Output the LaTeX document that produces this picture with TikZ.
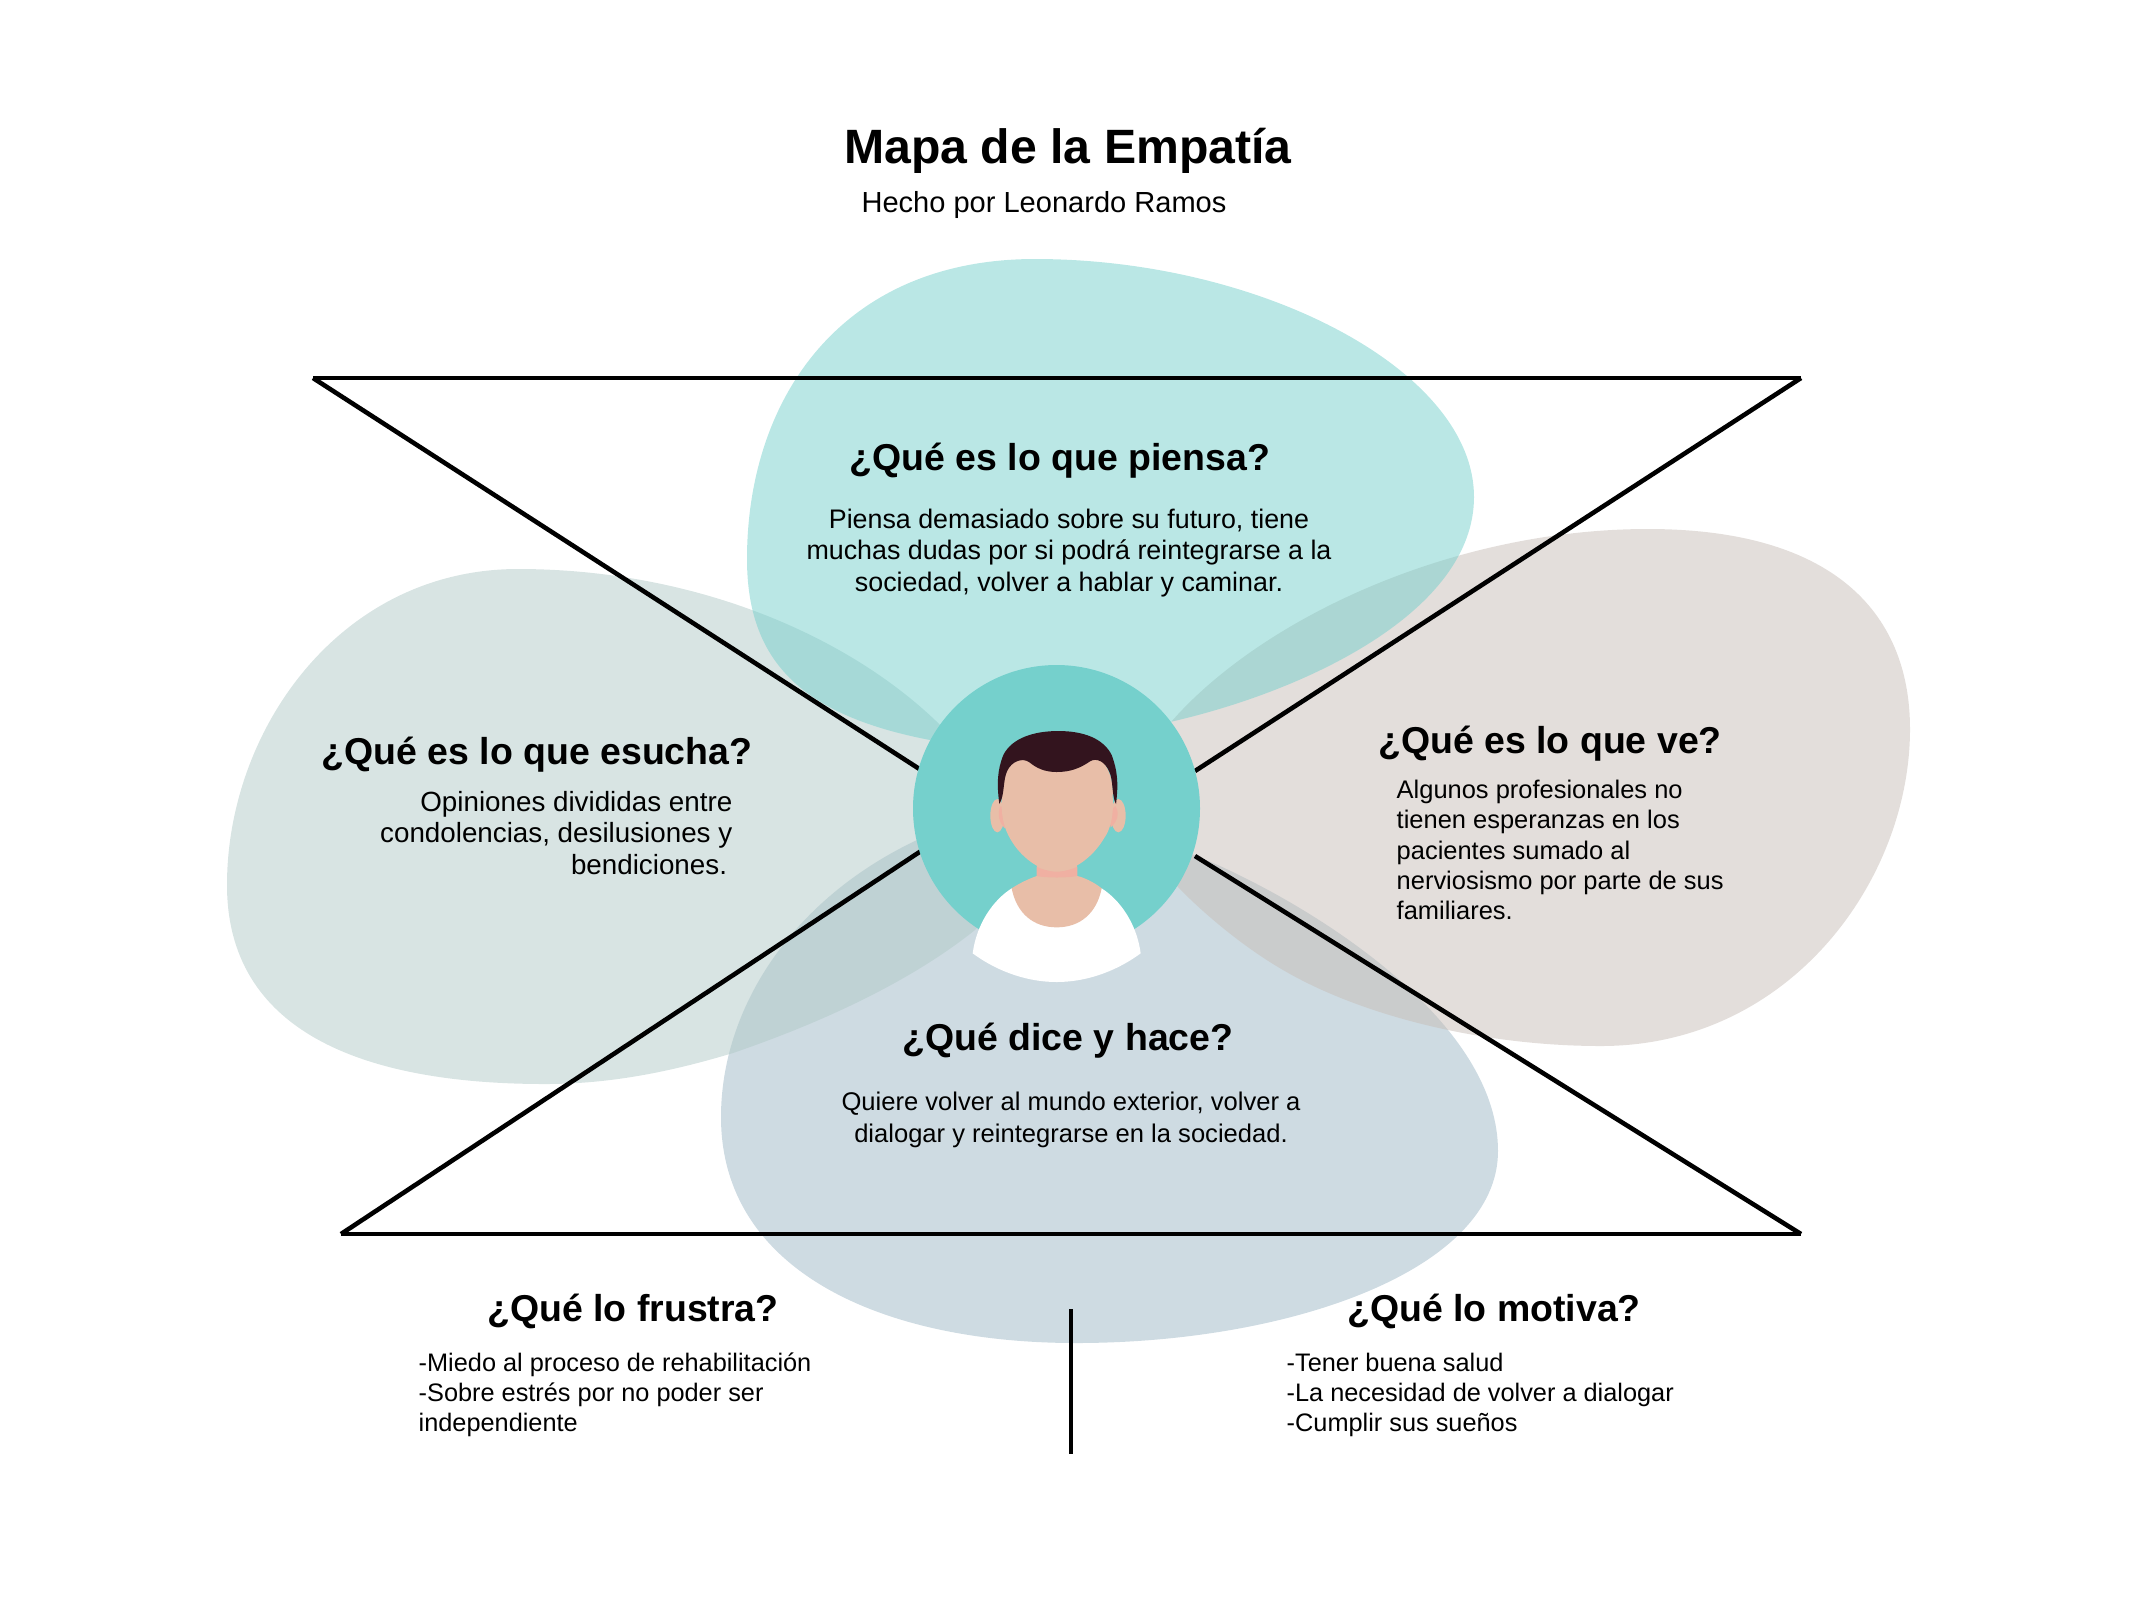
\documentclass[tikz,border=0pt]{standalone}
\usepackage{fontspec}
\setmainfont{Liberation Sans}
\usetikzlibrary{positioning}
\definecolor{tealc}{HTML}{75D0CC}
\definecolor{sagec}{HTML}{B1C9C7}
\definecolor{sandc}{HTML}{C7BDB7}
\definecolor{bluec}{HTML}{9DB7C5}
\definecolor{skinc}{HTML}{E8BEA8}
\definecolor{pinkc}{HTML}{F0B0A2}
\definecolor{hairc}{HTML}{33141E}

\begin{document}
\begin{tikzpicture}[x=0.01cm, y=-0.01cm,
blob/.style={opacity=0.5},
frame/.style={line width=1.3pt, black},
head/.style={font=\fontsize{10.65}{12}\selectfont\bfseries, inner sep=0pt},
body/.style={font=\fontsize{#1}{8.9}\selectfont, inner sep=0pt},
lista/.style={font=\fontsize{7.2}{8.6}\selectfont, inner sep=0pt, align=left}]
\useasboundingbox (0,0) rectangle (2136,1602);

% blobs
\fill[blob, fill=bluec] (721,1117) .. controls (721,1010) and (790,900) .. (917,840)
  .. controls (1000,800) and (1130,820) .. (1243,877) .. controls (1340,925) and (1498,1030) .. (1498,1151)
  .. controls (1498,1270) and (1290,1343) .. (1076,1343)
  .. controls (880,1343) and (721,1270) .. (721,1117) -- cycle;
\fill[blob, fill=sagec] (518,569) .. controls (700,569) and (860,640) .. (950,735)
  .. controls (1010,800) and (1020,880) .. (975,930) .. controls (900,990) and (800,1030) .. (733,1053)
  .. controls (670,1072) and (610,1084) .. (545,1084)
  .. controls (360,1084) and (227,1030) .. (227,885) .. controls (227,730) and (340,569) .. (518,569) -- cycle;
\fill[blob, fill=sandc] (1648,529) .. controls (1830,529) and (1910,610) .. (1910,729)
  .. controls (1910,880) and (1790,1046) .. (1601,1046) .. controls (1480,1046) and (1360,1015) .. (1283,970)
  .. controls (1240,945) and (1200,910) .. (1178,887)
  .. controls (1130,835) and (1120,780) .. (1171,722) .. controls (1260,620) and (1450,529) .. (1648,529) -- cycle;
\fill[blob, fill=tealc] (1035,259) .. controls (1260,259) and (1474,370) .. (1474,497)
  .. controls (1474,610) and (1310,690) .. (1170,722) .. controls (1100,745) and (1010,750) .. (930,740)
  .. controls (800,715) and (747,660) .. (747,559) .. controls (747,400) and (840,259) .. (1035,259) -- cycle;

% lines
\coordinate (tl) at (313,378);
\coordinate (tr) at (1801,378);
\coordinate (bl) at (341,1234);
\coordinate (br) at (1801,1234);
\coordinate (il) at (921,770);
\coordinate (ir) at (1195,771);
\coordinate (jl) at (921,851);
\coordinate (jr) at (1195,856);
\coordinate (v1) at (1071,1309);
\coordinate (v2) at (1071,1454);
\draw[frame] (il) -- (tl);
\draw[frame] (tl) -- (tr);
\draw[frame] (tr) -- (ir);
\draw[frame] (jl) -- (bl);
\draw[frame] (bl) -- (br);
\draw[frame] (br) -- (jr);
\draw[frame] (v1) -- (v2);

% person
\fill[tealc] (1056.5,808.5) circle (143.5);
\begin{scope}[shift={(880,640)}, scale=1/3]
\fill[white] (278,940) .. controls (290,850) and (340,780) .. (395,745) -- (665,745)
  .. controls (720,780) and (770,850) .. (782,940) .. controls (700,1000) and (610,1026) .. (530,1026)
  .. controls (450,1026) and (360,1000) .. (278,940) -- cycle;
\fill[skinc] (395,745) .. controls (430,722) and (460,712) .. (470,708) -- (592,708)
  .. controls (610,712) and (640,725) .. (665,745) .. controls (650,820) and (600,862) .. (530,862)
  .. controls (460,862) and (410,820) .. (395,745) -- cycle;
\fill[skinc] (470,660) rectangle (592,712);
\fill[pinkc] (470,680) .. controls (500,698) and (560,698) .. (592,680) -- (592,708)
  .. controls (560,714) and (500,714) .. (470,708) -- cycle;
\fill[skinc] (352,527) ellipse (21 and 50);
\fill[skinc] (715,527) ellipse (22 and 50);
\fill[pinkc] (362,498) .. controls (350,520) and (358,550) .. (376,566) -- (385,520) -- cycle;
\fill[pinkc] (706,498) .. controls (720,520) and (712,545) .. (692,562) -- (685,520) -- cycle;
\fill[skinc] (365,470) .. controls (362,530) and (375,570) .. (390,595) .. controls (420,650) and (480,695) .. (530,695)
  .. controls (580,695) and (640,650) .. (672,595) .. controls (690,570) and (702,530) .. (698,470)
  .. controls (705,380) and (640,300) .. (530,300) .. controls (420,300) and (360,380) .. (365,470) -- cycle;
\fill[hairc] (358,492) .. controls (350,430) and (352,390) .. (370,345) .. controls (395,295) and (460,273) .. (535,273)
  .. controls (610,273) and (670,295) .. (695,345) .. controls (712,390) and (716,430) .. (708,492)
  .. controls (695,470) and (700,420) .. (688,395) .. controls (675,365) and (650,352) .. (630,364)
  .. controls (600,385) and (570,396) .. (530,396) .. controls (495,396) and (470,385) .. (447,366)
  .. controls (425,352) and (395,365) .. (382,392) .. controls (368,420) and (375,465) .. (358,492) -- cycle;
\end{scope}

% title
\node[font=\fontsize{13.7}{17}\selectfont\bfseries, inner sep=0pt] (titulo) at (1068,151) {Mapa de la Empatía};
\node[font=\fontsize{8.26}{10}\selectfont, inner sep=0pt] (autor) at (1044,205) {Hecho por Leonardo Ramos};

% sections
\node[head] (h1) at (1060,461) {¿Qué es lo que piensa?};
\node[body=7.63, align=center] (t1) at (1069,553) {Piensa demasiado sobre su futuro, tiene\\muchas dudas por si podrá reintegrarse a la\\sociedad, volver a hablar y caminar.};
\node[head] (h2) at (537,755) {¿Qué es lo que esucha?};
\node[body=7.9, align=right, anchor=east] (t2) at (733,833) {Opiniones divididas entre\\condolencias, desilusiones y\\bendiciones.\hspace*{1.5pt}};
\node[head] (h3) at (1550,744) {¿Qué es lo que ve?};
\node[font=\fontsize{7.24}{8.6}\selectfont, inner sep=0pt, align=left, anchor=west] (t3) at (1396,850) {Algunos profesionales no\\tienen esperanzas en los\\pacientes sumado al\\nerviosismo por parte de sus\\familiares.};
\node[head] (h4) at (1068,1041) {¿Qué dice y hace?};
\node[body=7.27, align=center] (t4) at (1071,1120) {Quiere volver al mundo exterior, volver a\\dialogar y reintegrarse en la sociedad.};
\node[head] (h5) at (633,1311) {¿Qué lo frustra?};
\node[lista, anchor=west] (t5) at (418,1395) {-Miedo al proceso de rehabilitación\\-Sobre estrés por no poder ser\\independiente};
\node[head] (h6) at (1494,1311) {¿Qué lo motiva?};
\node[lista, anchor=west] (t6) at (1286,1395) {-Tener buena salud\\-La necesidad de volver a dialogar\\-Cumplir sus sueños};
\end{tikzpicture}
\end{document}
